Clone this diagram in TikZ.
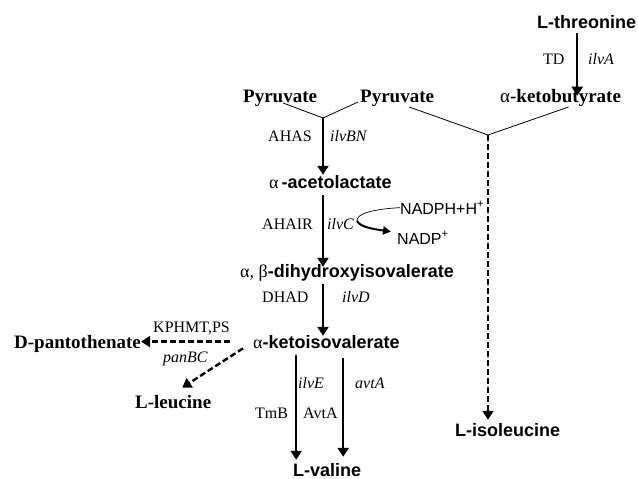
\documentclass[tikz,border=0pt]{standalone}
\usepackage{fontspec}
\setmainfont{Liberation Serif}
\setsansfont{Liberation Sans}
\usetikzlibrary{arrows.meta,calc}
\newcommand{\gr}[1]{{\rmfamily\mdseries #1}}
\begin{document}
\begin{tikzpicture}[x=1pt,y=-1pt,
 sb/.style={font=\fontsize{18}{21}\selectfont\sffamily\bfseries, inner sep=0pt, anchor=base west},
 rb/.style={font=\fontsize{19}{22}\selectfont\rmfamily\bfseries, inner sep=0pt, anchor=base west},
 en/.style={font=\fontsize{16}{19}\selectfont\rmfamily, inner sep=0pt, anchor=base west},
 gn/.style={font=\fontsize{16}{19}\selectfont\rmfamily\itshape, inner sep=0pt, anchor=base west},
 co/.style={font=\fontsize{16}{19}\selectfont\sffamily, inner sep=0pt, anchor=base west},
 arr/.style={line width=2.4pt, -{Triangle[length=9pt,width=11pt]}},
 darr/.style={arr, dash pattern=on 6pt off 3pt},
 thinline/.style={line width=0.8pt}]
\useasboundingbox (0,0) rectangle (638,479);

% metabolites
\node[sb] (thr) at (537,28) {L-threonine};
\node[rb] (kb) at (500,102) {\gr{α}-ketobutyrate};
\node[rb] (pyrL) at (243,102) {Pyruvate};
\node[rb] (pyrR) at (360,102) {Pyruvate};
\node[sb] (acet) at (269,188) {\gr{α}\,-acetolactate};
\node[sb] (dihy) at (240,277) {\gr{α, β}-dihydroxyisovalerate};
\node[sb] (kiv) at (253,348) {\gr{α}-ketoisovalerate};
\node[rb] (pant) at (14,348) {D-pantothenate};
\node[rb] (leu) at (135,408) {L-leucine};
\node[sb] (ile) at (455,436) {L-isoleucine};
\node[sb] (val) at (293,476.5) {L-valine};
\node[co] (nadph) at (400,214) {NADPH+H\textsuperscript{+}};
\node[co] (nadp) at (397,244) {NADP\textsuperscript{+}};

% enzyme / gene labels
\node[en] (td) at (543,64) {TD};
\node[gn] (ilva) at (588,64) {ilvA};
\node[en] (ahas) at (268,141) {AHAS};
\node[gn] (ilvbn) at (330,141) {ilvBN};
\node[en] (ahair) at (262,229) {AHAIR};
\node[gn] (ilvc) at (327,229) {ilvC};
\node[en] (dhad) at (262,302) {DHAD};
\node[gn] (ilvd) at (342,302) {ilvD};
\node[en] (kphmt) at (153,332) {KPHMT,PS};
\node[gn] (panbc) at (163,362) {panBC};
\node[gn] (ilve) at (298,388) {ilvE};
\node[gn] (avta) at (355,388) {avtA};
\node[en] (tmb) at (255,418) {TmB};
\node[en] (avtaE) at (303,418) {AvtA};

% junctions
\coordinate (j1) at (323,118);
\coordinate (j2) at (488,135);
\coordinate (cv) at (357,221);

% pyruvate condensations
\draw[thinline] ($(pyrL.base)+(3,1)$) -- (j1);
\draw[thinline] ($(pyrR.base west)+(-2,0)$) -- (j1);
\draw[thinline] ($(pyrR.base)+(12,5)$) -- (j2);
\draw[thinline] ($(kb.base)+(8,5)$) -- (j2);

% main arrows
\draw[arr, shorten <=5pt, shorten >=4pt] ([xshift=-9.5pt]thr.south) -- ([xshift=-9.5pt]thr.south |- kb.mid);
\draw[arr] (j1) -- (j1 |- acet.north);
\draw[arr, shorten <=7pt, shorten >=-3pt] (acet.south -| j1) -- (dihy.north -| j1);
\draw[arr, shorten <=2.5pt, shorten >=-1pt] (dihy.south -| j1) -- (kiv.north -| j1);
\draw[arr, shorten <=7pt, shorten >=3.5pt] ([xshift=-31pt]val.north |- kiv.south) -- ([xshift=-31pt]val.north);
\draw[arr, shorten <=10pt, shorten >=6.5pt] ([xshift=16pt]val.north |- kiv.south) -- ([xshift=16pt]val.north);

% dashed arrows
\draw[darr, shorten <=23pt] (kiv.west) -- (kiv.west -| pant.east);
\draw[darr] ([xshift=-10pt]kiv.south west) -- ([xshift=9pt,yshift=7pt]leu.north);
\draw[darr, shorten >=3pt] (j2) -- (j2 |- ile.north);

% cofactor
\draw[line width=0.7pt] (nadph.west) .. controls (376,209) and (356,213) .. (cv);
\draw[line width=2pt, -{Triangle[length=8pt,width=8pt]}] (cv) .. controls (360,227) and (373,229) .. ([xshift=-6pt,yshift=6pt]nadp.west);
\end{tikzpicture}
\end{document}
